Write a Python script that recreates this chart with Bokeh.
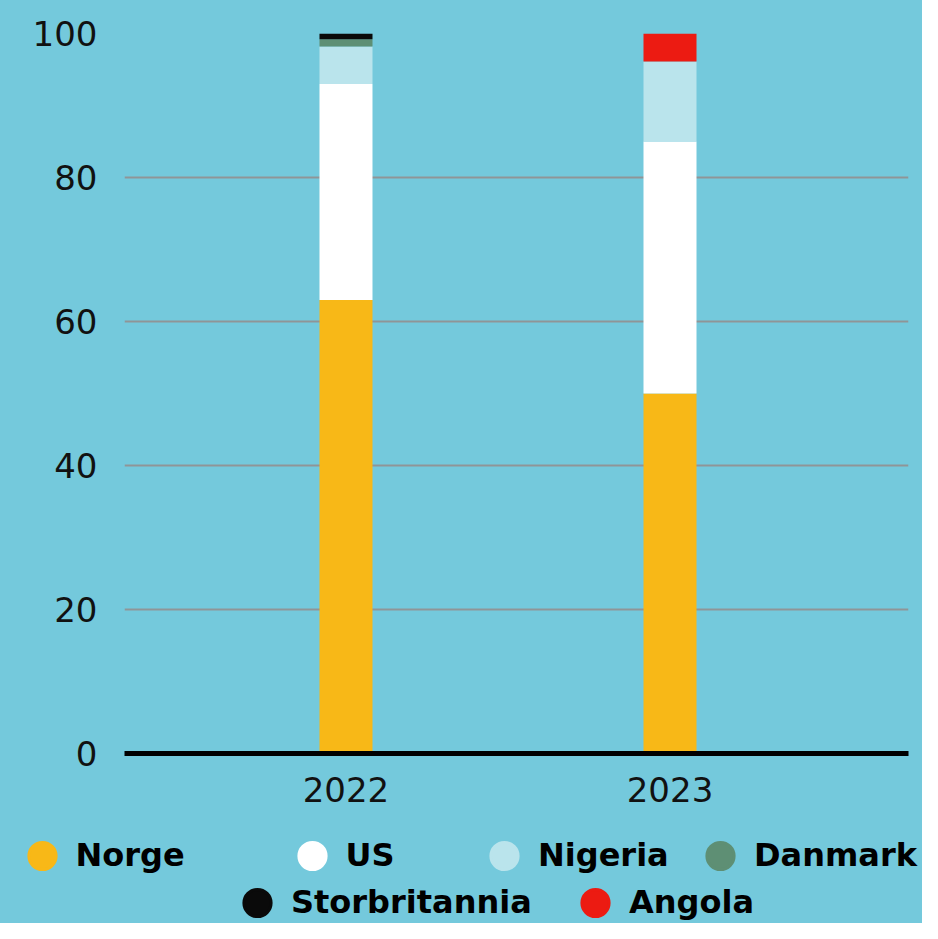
from bokeh.plotting import figure
from bokeh.models import (ColumnDataSource, Range1d, FixedTicker, Legend, LegendItem)
from bokeh.layouts import column
from bokeh.embed import file_html
from bokeh.resources import INLINE

# ---- data ----
years = ["2022", "2023"]
countries = ["Norge", "US", "Nigeria", "Danmark", "Storbritannia", "Angola"]
norge = [63.0, 50.0]
us = [30.0, 35.0]
nigeria = [5.2, 11.1]
danmark = [1.0, 0.0]
storbritannia = [0.8, 0.0]
angola = [0.0, 3.9]
y_ticks = [0, 20, 40, 60, 80, 100]

colors = ["#F8B817", "#FFFFFF", "#BAE4EC", "#5E8F74", "#0A0A0A", "#EC1B12"]
BG = "#74C9DC"

x_pos = list(range(len(years)))
source = ColumnDataSource(dict(
    x=x_pos, Norge=norge, US=us, Nigeria=nigeria, Danmark=danmark,
    Storbritannia=storbritannia, Angola=angola))

p = figure(width=922, height=820, output_backend="svg", toolbar_location=None,
           x_range=Range1d(-0.6836, 1.7361), y_range=Range1d(0, 100),
           min_border_left=124, min_border_right=14, min_border_top=33,
           min_border_bottom=67, frame_align=False)
p.background_fill_color = BG
p.border_fill_color = BG
p.outline_line_color = None
p.styles = {"background-color": BG}

p.vbar_stack(countries, x="x", width=0.1636, color=colors, line_color=None,
             source=source)

# axes
p.yaxis.ticker = FixedTicker(ticks=y_ticks)
p.yaxis.axis_line_color = None
p.yaxis.major_tick_line_color = None
p.yaxis.minor_tick_line_color = None
p.yaxis.major_tick_out = 0
p.yaxis.major_tick_in = 0
p.yaxis.major_label_standoff = 27
p.yaxis.major_label_text_font = "DejaVu Sans"
p.yaxis.major_label_text_font_size = "34px"
p.yaxis.major_label_text_color = "#111111"

p.xaxis.ticker = FixedTicker(ticks=x_pos)
p.xaxis.major_label_overrides = {i: y for i, y in zip(x_pos, years)}
p.xaxis.axis_line_color = "#000000"
p.xaxis.axis_line_width = 5
p.xaxis.major_tick_line_color = None
p.xaxis.minor_tick_line_color = None
p.xaxis.major_tick_out = 0
p.xaxis.major_tick_in = 0
p.xaxis.major_label_standoff = 23
p.xaxis.major_label_text_font = "DejaVu Sans"
p.xaxis.major_label_text_font_size = "34px"
p.xaxis.major_label_text_color = "#111111"

p.xgrid.grid_line_color = None
p.ygrid.grid_line_color = "#8f9597"
p.ygrid.grid_line_width = 2
p.ygrid.ticker = FixedTicker(ticks=y_ticks)

# ---- legend panel ----
pl = figure(width=922, height=103, output_backend="svg", toolbar_location=None,
            x_range=Range1d(0, 1), y_range=Range1d(0, 1),
            x_axis_type=None, y_axis_type=None, min_border=0,
            min_border_left=0, min_border_right=0, min_border_top=0,
            min_border_bottom=0, frame_align=False)
pl.background_fill_color = BG
pl.border_fill_color = BG
pl.outline_line_color = None
pl.grid.grid_line_color = None
pl.styles = {"background-color": BG}

legend_pos = [(7.5, 30.5), (277.5, 30.5), (470, 30.5), (686, 30.5),
              (223, -16.5), (561, -16.5)]
nan = float("nan")
for name, col, loc in zip(countries, colors, legend_pos):
    r = pl.scatter(x=[nan], y=[nan], marker="circle", size=27, fill_color=col,
                   line_color=col, line_width=3)
    lg = Legend(items=[LegendItem(label=name, renderers=[r])], location=loc,
                glyph_width=68, glyph_height=75, label_standoff=0,
                padding=0, margin=0, border_line_color=None,
                background_fill_alpha=0, label_text_font="DejaVu Sans",
                label_text_font_style="bold", label_text_font_size="32px",
                label_text_color="#000000")
    pl.add_layout(lg, "center")

layout = column(p, pl, spacing=0)
layout.styles = {"background-color": BG}
open("out.html", "w").write(file_html(layout, INLINE))
